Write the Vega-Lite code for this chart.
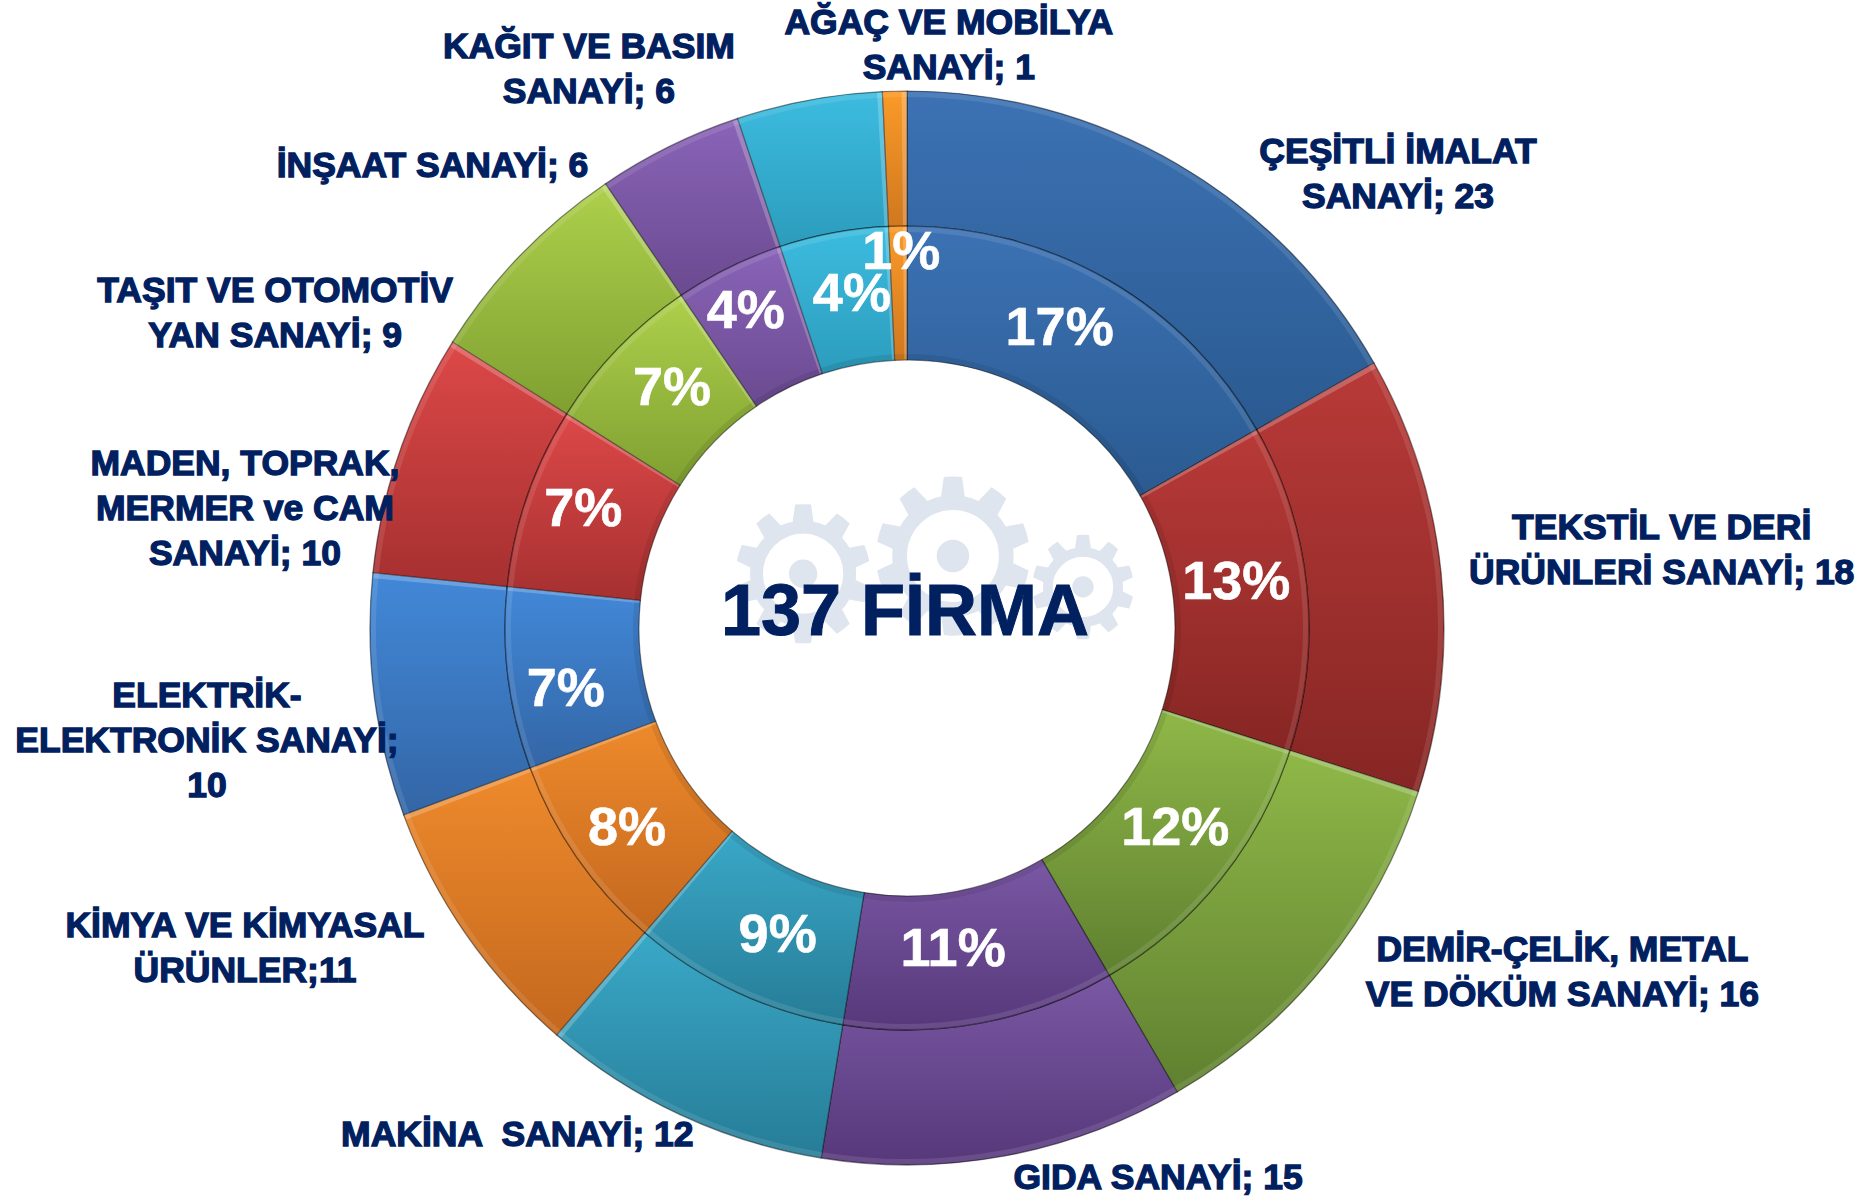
{
"$schema":"https://vega.github.io/schema/vega-lite/v6.json",
"width":1814,"height":1136,"autosize":"none","padding":{"left":0,"top":60,"right":58,"bottom":0},
"background":"white",
"config":{"view":{"stroke":null}},
"params":[{"name":"dolgu","expr":"[['#3c72b4','#2a5a90'],['#b83a38','#862624'],['#8fb848','#5f8030'],['#7a58a4','#56387a'],['#3aa8c8','#267c96'],['#ee8a2c','#c4681e'],['#4288d8','#3366a6'],['#dd4848','#a63030'],['#aed04c','#7fa030'],['#8a64b8','#6a4a90'],['#3cbce0','#2c9cbc'],['#fa9a28','#d07820']]"}],
"data":{"values":[
{"sira":0,"sektor":"Çeşitli İmalat","firma":23,"yuzde":"17%","etiket":"ÇEŞİTLİ İMALAT\nSANAYİ; 23"},
{"sira":1,"sektor":"Tekstil ve Deri","firma":18,"yuzde":"13%","etiket":"TEKSTİL VE DERİ\nÜRÜNLERİ SANAYİ; 18"},
{"sira":2,"sektor":"Demir-Çelik","firma":16,"yuzde":"12%","etiket":"DEMİR-ÇELİK, METAL\nVE DÖKÜM SANAYİ; 16"},
{"sira":3,"sektor":"Gıda","firma":15,"yuzde":"11%","etiket":"GIDA SANAYİ; 15"},
{"sira":4,"sektor":"Makina","firma":12,"yuzde":"9%","etiket":"MAKİNA \u00a0SANAYİ; 12"},
{"sira":5,"sektor":"Kimya","firma":11,"yuzde":"8%","etiket":"KİMYA VE KİMYASAL\nÜRÜNLER;11"},
{"sira":6,"sektor":"Elektrik","firma":10,"yuzde":"7%","etiket":"ELEKTRİK-\nELEKTRONİK SANAYİ;\n10"},
{"sira":7,"sektor":"Maden","firma":10,"yuzde":"7%","etiket":"MADEN, TOPRAK,\nMERMER ve CAM\nSANAYİ; 10"},
{"sira":8,"sektor":"Taşıt","firma":9,"yuzde":"7%","etiket":"TAŞIT VE OTOMOTİV\nYAN SANAYİ; 9"},
{"sira":9,"sektor":"İnşaat","firma":6,"yuzde":"4%","etiket":"İNŞAAT SANAYİ; 6"},
{"sira":10,"sektor":"Kağıt","firma":6,"yuzde":"4%","etiket":"KAĞIT VE BASIM\nSANAYİ; 6"},
{"sira":11,"sektor":"Ağaç","firma":1,"yuzde":"1%","etiket":"AĞAÇ VE MOBİLYA\nSANAYİ; 1"}
]},
"layer":[
{"encoding":{"theta":{"field":"firma","type":"quantitative","stack":true,"scale":{"domain":[0,137]}},"order":{"field":"sira","type":"ordinal"},"detail":{"field":"sira","type":"nominal"}},
"layer":[
{"mark":{"type":"arc","radius":537,"radius2":402,"stroke":"#00000070","strokeWidth":1.2,
"fill":{"expr":"{gradient:'linear',x1:0,y1:0,x2:0,y2:1,stops:[{offset:0,color:dolgu[datum.sira][0]},{offset:1,color:dolgu[datum.sira][1]}]}"}}},
{"mark":{"type":"arc","radius":402,"radius2":268,"stroke":"#00000070","strokeWidth":1.2,
"fill":{"expr":"{gradient:'linear',x1:0,y1:0,x2:0,y2:1,stops:[{offset:0,color:dolgu[datum.sira][0]},{offset:1,color:dolgu[datum.sira][1]}]}"}}},
{"mark":{"type":"arc","radius":536,"radius2":531,"fill":"#ffffff","fillOpacity":0.1}},
{"mark":{"type":"arc","radius":401,"radius2":396,"fill":"#ffffff","fillOpacity":0.1}},
{"mark":{"type":"arc","radius":274,"radius2":268,"fill":"#000000","fillOpacity":0.08}}
]},
{"transform":[{"stack":"firma","sort":[{"field":"sira","order":"ascending"}],"as":["bas","son"]},
{"filter":"datum.sira!==0&&datum.sira!==3"},
{"calculate":"datum.bas<68.5?datum.bas:datum.son-0.22","as":"kenar1"},{"calculate":"datum.kenar1+0.22","as":"kenar2"}],
"encoding":{"theta":{"field":"kenar1","type":"quantitative","scale":{"domain":[0,137]}},"theta2":{"field":"kenar2"}},
"layer":[
{"mark":{"type":"arc","radius":536,"radius2":403,"fill":"#ffffff","fillOpacity":0.22}},
{"mark":{"type":"arc","radius":401,"radius2":269,"fill":"#ffffff","fillOpacity":0.22}}
]},
{"data":{"values":[{"simge":"⚙","boy":"orta"},{"simge":"⚙","boy":"sol"},{"simge":"⚙","boy":"sag"}]},
"layer":[
{"transform":[{"filter":"datum.boy==='orta'"}],"mark":{"type":"text","font":"DejaVu Sans","fontSize":214,"fill":"#dfe5ee","align":"center","baseline":"middle","dx":46,"dy":-60},"encoding":{"text":{"field":"simge"}}},
{"transform":[{"filter":"datum.boy==='sol'"}],"mark":{"type":"text","font":"DejaVu Sans","fontSize":187,"fill":"#dfe5ee","align":"center","baseline":"middle","dx":-104,"dy":-44},"encoding":{"text":{"field":"simge"}}},
{"transform":[{"filter":"datum.boy==='sag'"}],"mark":{"type":"text","font":"DejaVu Sans","fontSize":141,"fill":"#dfe5ee","align":"center","baseline":"middle","dx":176,"dy":-33},"encoding":{"text":{"field":"simge"}}}
]},
{"data":{"values":[{"baslik":"137 FİRMA"}]},
"mark":{"type":"text","font":"Liberation Sans","fontWeight":"bold","fontSize":72,"fill":"#002060","stroke":"#002060","strokeWidth":1,"align":"center","baseline":"alphabetic","dx":-2,"dy":7},
"encoding":{"text":{"field":"baslik"}}},
{"encoding":{"theta":{"field":"firma","type":"quantitative","stack":true,"scale":{"domain":[0,137]}},"order":{"field":"sira","type":"ordinal"},"detail":{"field":"sira","type":"nominal"}},
"layer":[
{"mark":{"type":"text","radius":335,"font":"Liberation Sans","fontWeight":"bold","fontSize":54,"fill":"#ffffff","stroke":"#ffffff","strokeWidth":0.6,"align":"center","baseline":"middle",
"dx":{"expr":"[-16,-4,7,-15,12,-5,-9,-7,6,-13,6,2][datum.sira]"},
"dy":{"expr":"[-10,-10,-9,-7,4,10,20,-9,-6,-16,-4,-40][datum.sira]"}},
"encoding":{"text":{"field":"yuzde"}}},
{"mark":{"type":"text","radius":620,"font":"Liberation Sans","fontWeight":"bold","fontSize":35.5,"fill":"#002060","stroke":"#002060","strokeWidth":1.3,"align":"center","baseline":"middle","lineBreak":"\n","lineHeight":45,
"dx":{"expr":"[179,138,172,138,-128,-153,-85,-76,-186,-200,-205,56][datum.sira]"},
"dy":{"expr":"[60,-36,-66,-60,-55,-56,-10,38,94,94,29,15][datum.sira]"}},
"encoding":{"text":{"field":"etiket"}}}
]}
]
}
